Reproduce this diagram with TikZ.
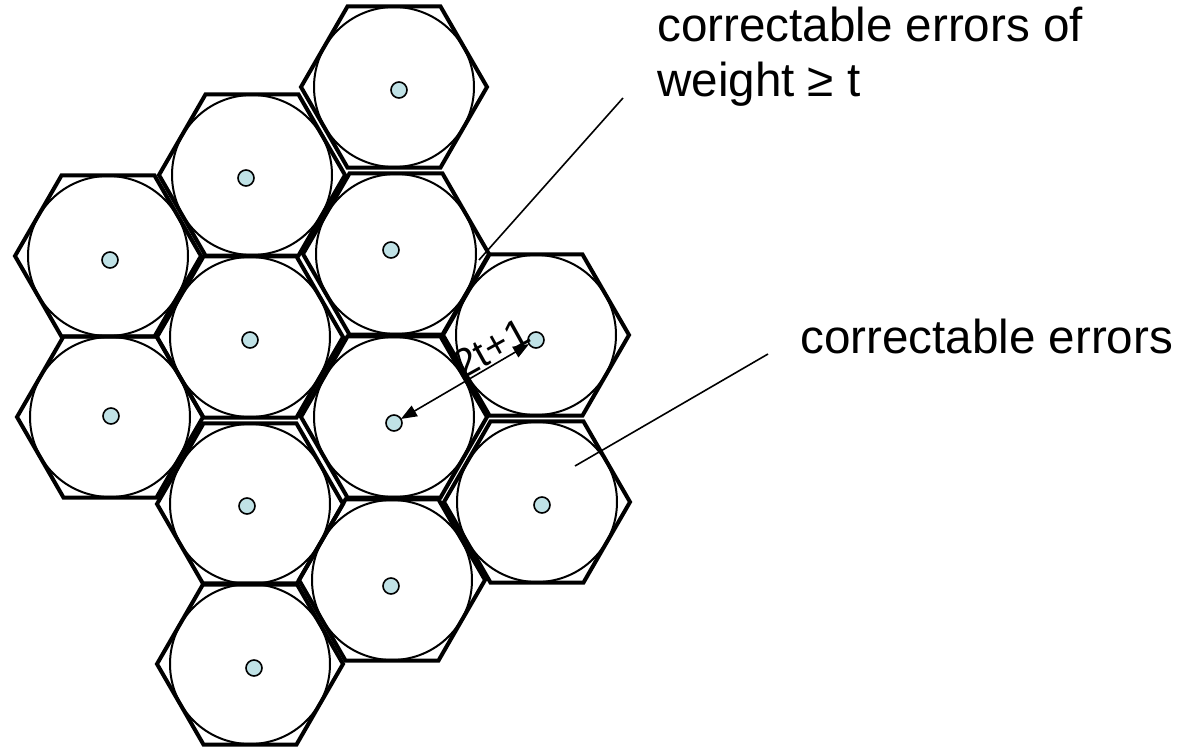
\documentclass[tikz,border=0pt]{standalone}
\usepackage{fontspec}
\setmainfont{Liberation Sans}
\usetikzlibrary{shapes.geometric,arrows.meta}
\definecolor{dotfill}{RGB}{192,226,230}
\begin{document}
\begin{tikzpicture}[x=1pt,y=-1pt,
  hexcell/.style={regular polygon,regular polygon sides=6,minimum size=186pt,inner sep=0pt,outer sep=0pt,draw,line width=4pt,line join=miter},
  ball/.style={circle,minimum size=160pt,inner sep=0pt,outer sep=0pt,draw,line width=2pt},
  cw/.style={circle,minimum size=16pt,inner sep=0pt,outer sep=0pt,draw,line width=1.6pt,fill=dotfill},
  leader/.style={line width=1.6pt},
  lbl/.style={font=\fontsize{47.6}{55}\selectfont,anchor=base west,inner sep=0pt,align=left}
]
\useasboundingbox (0,0) rectangle (1187,749);
% hexagons and circles
\foreach \n/\x/\y in {A/394/87,B/252/175,C/108/256,D/396/254,E/250/337,F/536/335,G/110/417,H/394/417,I/537/502,J/250/504,K/392/580,L/250/664}{
  \node[hexcell] (hex\n) at (\x,\y) {};
  \node[ball] (ball\n) at (\x,\y) {};
}
% codeword dots
\foreach \n/\x/\y in {A/399/90,B/246/178,C/110/260,D/391/250,E/250/340,F/536/340,G/111/416,H/394/423,I/542/505,J/247/506,K/391/586,L/254/668}{
  \node[cw] (dot\n) at (\x,\y) {};
}
% distance arrow
\draw[line width=1.6pt,{Triangle[length=16pt,width=12pt]}-{Triangle[length=16pt,width=12pt]}] (dotH) -- (dotF);
\node[font=\fontsize{40}{44}\selectfont,anchor=base,inner sep=0pt,rotate=29] (dist) at (498,360) {2t+1};
% labels
\node[lbl] (lab1) at (657,97) {correctable errors of\\weight ≥ t};
\node[lbl] (lab2) at (800,353) {correctable errors};
\coordinate (l1a) at (623,98);
\coordinate (l1b) at (479,260);
\coordinate (l2a) at (768,354);
\coordinate (l2b) at (575,466);
\draw[leader] (l1a) -- (l1b);
\draw[leader] (l2a) -- (l2b);
\end{tikzpicture}
\end{document}
